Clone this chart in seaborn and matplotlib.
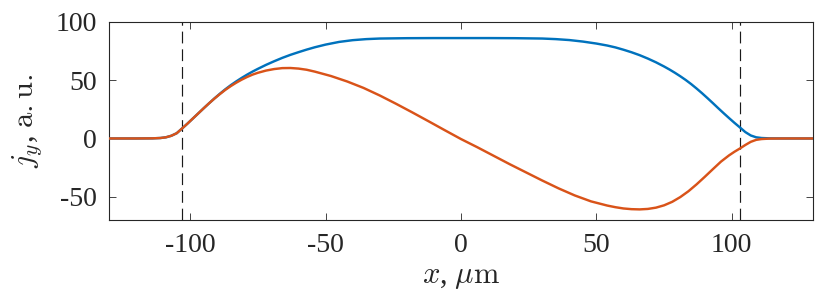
import numpy as np
import pandas as pd
import matplotlib
matplotlib.use("Agg")
import matplotlib.pyplot as plt
import seaborn as sns

# ---- data ----
x_blue = [-130, -120, -114, -111, -109, -107, -105, -103, -101, -99, -97, -95, -93, -91, -89, -87, -85,
          -83, -81, -79, -77, -75, -72, -69, -66, -63, -60, -57, -54, -50, -45, -40, -35, -30, -20, -10, 0,
          10, 20, 30, 35, 40, 45, 50, 54, 57, 60, 63, 66, 69, 72, 75, 77, 79, 81, 83, 85, 87,
          89, 91, 93, 95, 97, 99, 101, 103, 105, 107, 109, 111, 114, 120, 130]
y_blue = [0, 0, 0.1, 0.4, 1.0, 2.3, 4.5, 8.6, 12.8, 17.2, 21.6, 26.0, 30.3, 34.5, 38.5, 42.3, 45.8,
          49.0, 52.0, 54.8, 57.4, 59.8, 63.2, 66.3, 69.2, 71.8, 74.1, 76.3, 78.3, 80.6, 82.9, 84.4, 85.3, 85.8, 86.1, 86.2, 86.2,
          86.2, 86.1, 85.8, 85.3, 84.5, 83.2, 81.5, 79.8, 78.2, 76.2, 74.0, 71.5, 68.6, 65.4, 61.8, 59.2, 56.4, 53.4, 50.2, 46.7, 42.9,
          38.9, 34.7, 30.4, 26.0, 21.7, 17.5, 13.4, 9.5, 5.5, 2.6, 1.0, 0.4, 0.1, 0, 0]

x_orange = [-130, -120, -114, -111, -109, -107, -105, -103, -101, -99, -97, -95, -93, -91, -89, -87, -85,
            -83, -81, -79, -77, -75, -72, -69, -66, -63, -60, -57, -54, -48, -42, -36, -30, -24, -18, -12, -6, 0,
            6, 12, 18, 24, 30, 36, 42, 48, 54, 57, 60, 63, 66, 69, 72, 75, 78, 81, 84, 87, 90, 93, 96,
            99, 101, 103, 105, 107, 109, 111, 114, 120, 130]
y_orange = [0, 0, 0.1, 0.4, 1.0, 2.3, 4.5, 8.6, 12.8, 17.2, 21.6, 26.0, 30.3, 34.4, 38.2, 41.8, 45.0,
            47.9, 50.5, 52.8, 54.8, 56.4, 58.3, 59.6, 60.4, 60.5, 60.0, 59.0, 57.4, 53.6, 48.9, 43.4, 36.9, 29.8, 22.4, 14.8, 7.1, -0.5,
            -7.5, -14.8, -22.1, -29.1, -36.1, -42.8, -48.9, -54.0, -57.6, -59.0, -60.1, -60.7, -60.9, -60.5, -59.4, -57.4, -54.4, -50.3, -45.3, -39.4, -33.0, -26.4, -19.9,
            -14.5, -11.4, -8.6, -5.6, -2.9, -1.2, -0.5, -0.1, 0, 0]

boundaries = [-103, 103]
x_ticks = [-100, -50, 0, 50, 100]
y_ticks = [-50, 0, 50, 100]

df = pd.concat([
    pd.DataFrame({"x": x_blue, "j": y_blue, "s": "a"}),
    pd.DataFrame({"x": x_orange, "j": y_orange, "s": "b"}),
], ignore_index=True)

sns.set_style("ticks")
plt.rcParams["font.family"] = ["Liberation Serif", "DejaVu Serif"]
plt.rcParams["mathtext.fontset"] = "cm"
plt.rcParams["axes.unicode_minus"] = False

fig = plt.figure(figsize=(8.30, 2.96), dpi=100)
ax = fig.add_axes([109 / 830, 1 - 220 / 296, (813 - 109) / 830, (220 - 22) / 296])

for b in boundaries:
    ax.axvline(b, color="#1a1a1a", lw=0.85, linestyle=(0, (10, 5)), zorder=1)

sns.lineplot(data=df, x="x", y="j", hue="s", palette=["#0072BD", "#D95319"],
             linewidth=1.75, legend=False, ax=ax, sort=False, zorder=3)

ax.set_xlim(-130, 130)
ax.set_ylim(-70, 100)
ax.set_xticks(x_ticks)
ax.set_yticks(y_ticks)
ax.set_xticklabels([str(t) for t in x_ticks])
ax.set_yticklabels([str(t) for t in y_ticks])

ax.tick_params(direction="in", length=5, width=0.6, colors="#262626",
               labelsize=20, top=True, right=True, pad=9)
for sp in ax.spines.values():
    sp.set_visible(True)
    sp.set_color("#262626")
    sp.set_linewidth(0.8)

ax.set_xlabel(r"$x$, $\mu\mathrm{m}$", fontsize=22, color="#262626", labelpad=3)
ax.set_ylabel(r"$j_y$, $\mathrm{a.u.}$", fontsize=22, color="#262626", labelpad=8)

fig.savefig("out.png", dpi=100)
